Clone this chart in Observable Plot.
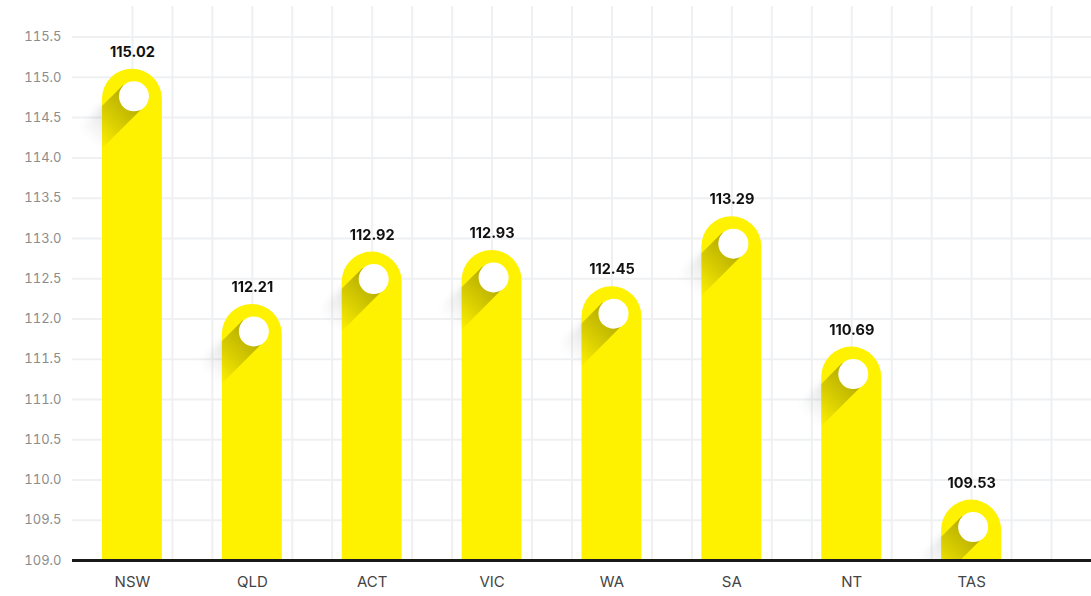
<!DOCTYPE html>
<html>
<head>
<meta charset="utf-8">
<script src="https://cdn.jsdelivr.net/npm/d3@7"></script>
<script src="https://cdn.jsdelivr.net/npm/@observablehq/plot@0.6"></script>
<style>
  html, body { margin: 0; padding: 0; background: #fff; }
  #chart svg { display: block; font-family: Inter, Roboto, "DejaVu Sans", sans-serif; }
  #chart [aria-label^="y-axis"] text { font-size: 13px; fill: #8c8c8c; }
  #chart [aria-label^="x-axis"] text { font-size: 15px; fill: #444; }
</style>
</head>
<body>
<div id="chart"></div>
<script>
// ---- data ----
const categories = ["NSW", "QLD", "ACT", "VIC", "WA", "SA", "NT", "TAS"];
const values     = [115.02, 112.21, 112.92, 112.93, 112.45, 113.29, 110.69, 109.53]; // printed labels
const barTops    = [115.10, 112.18, 112.83, 112.85, 112.40, 113.27, 111.65, 109.75]; // drawn bar tops (axis units)
const yTicks     = [109.0, 109.5, 110.0, 110.5, 111.0, 111.5, 112.0, 112.5, 113.0, 113.5, 114.0, 114.5, 115.0, 115.5];
const gridX      = d3.range(0, 24).map(k => k / 3); // three grid columns per category

const data = categories.map((c, i) => ({i, c, v: values[i], top: barTops[i]}));

const W = 1091, H = 596, ML = 72, MR = 0, MT = 6, MB = 36;

const chart = Plot.plot({
  width: W,
  height: H,
  marginLeft: ML,
  marginRight: MR,
  marginTop: MT,
  marginBottom: MB,
  x: {
    type: "linear",
    domain: [-0.5, 8.0],
    ticks: d3.range(categories.length),
    tickFormat: i => categories[i],
    tickSize: 0,
    tickPadding: 16,
    label: null
  },
  y: {
    domain: [109, 115.88],
    ticks: yTicks,
    tickFormat: d3.format(".1f"),
    tickSize: 0,
    tickPadding: 11,
    label: null
  },
  marks: [
    Plot.ruleY(yTicks, {stroke: "#eef0f2", strokeWidth: 2}),
    Plot.ruleX(gridX, {stroke: "#eef0f2", strokeWidth: 2}),
    Plot.rect(data, {
      x1: d => d.i - 0.25, x2: d => d.i + 0.25,
      y1: 108.5, y2: "top",
      rx: 30, fill: "#fff200", clip: true, ariaLabel: "bars"
    }),
    Plot.ruleY([109], {stroke: "#1a1a1a", strokeWidth: 3}),
    Plot.dot(data, {x: "i", y: "top", r: 15, dx: 1.5, dy: 27, fill: "#ffffff", stroke: null, ariaLabel: "knobs"}),
    Plot.text(data, {
      x: "i", y: "top", dy: -17,
      text: d => d.v.toFixed(2),
      fontSize: 14.5, fontWeight: 700, fill: "#111"
    })
  ]
});

document.getElementById("chart").appendChild(chart);

// ---- long shadows, placed from the bars the library drew ----
(function addShadows() {
  const svgNode = chart.tagName.toLowerCase() === "svg" ? chart : chart.querySelector("svg");
  const svg = d3.select(svgNode);
  const ns = "http://www.w3.org/2000/svg";
  const rects = Array.from(svgNode.querySelectorAll("rect")).filter(r => getComputedStyle(r).fill === "rgb(255, 242, 0)");
  if (!rects.length) return;
  const barG = rects[0].parentNode;
  const frameBottom = H - MB;

  const defs = svg.insert("defs", ":first-child");
  const gIn = defs.append("linearGradient").attr("id", "shIn").attr("x1", 0).attr("x2", 1).attr("y1", 0).attr("y2", 0);
  gIn.append("stop").attr("offset", 0).attr("stop-color", "#000").attr("stop-opacity", 0.3);
  gIn.append("stop").attr("offset", 0.55).attr("stop-color", "#000").attr("stop-opacity", 0.14);
  gIn.append("stop").attr("offset", 1).attr("stop-color", "#000").attr("stop-opacity", 0);
  const gOut = defs.append("linearGradient").attr("id", "shOut").attr("x1", 0).attr("x2", 1).attr("y1", 0).attr("y2", 0);
  gOut.append("stop").attr("offset", 0).attr("stop-color", "#000").attr("stop-opacity", 0.2);
  gOut.append("stop").attr("offset", 1).attr("stop-color", "#000").attr("stop-opacity", 0);
  defs.append("filter").attr("id", "shBlur").attr("x", "-50%").attr("y", "-50%").attr("width", "200%").attr("height", "200%")
    .append("feGaussianBlur").attr("stdDeviation", 3.5);
  defs.append("clipPath").attr("id", "frameClip")
    .append("rect").attr("x", ML).attr("y", MT).attr("width", W - ML - MR).attr("height", frameBottom - MT);

  let markG = barG;
  while (markG.parentNode && markG.parentNode !== svgNode) markG = markG.parentNode;

  const outerWrap = document.createElementNS(ns, "g");
  outerWrap.setAttribute("clip-path", "url(#frameClip)");
  const outer = document.createElementNS(ns, "g");
  outer.setAttribute("filter", "url(#shBlur)");
  outerWrap.appendChild(outer);
  const inner = document.createElementNS(ns, "g");
  svgNode.insertBefore(outerWrap, markG);
  svgNode.insertBefore(inner, markG.nextSibling);

  const L = 62;
  const sm = svgNode.getCTM ? svgNode.getCTM() : null;
  rects.forEach((r, k) => {
    const b = r.getBBox();
    const m = r.getCTM();
    let ox = 0, oy = 0;
    if (m && sm) { ox = m.e - sm.e; oy = m.f - sm.f; }
    const bx = b.x + ox, by = b.y + oy, bw = b.width, bh = b.height;
    const cx = bx + bw / 2 + 1.5, cy = by + 27;
    d3.select(outer).append("rect")
      .attr("x", 0).attr("y", -15).attr("width", L).attr("height", 30)
      .attr("transform", `translate(${cx},${cy}) rotate(135)`)
      .attr("fill", "url(#shOut)");
    const clipId = "barclip" + k;
    const visH = Math.max(0, Math.min(by + bh, frameBottom) - by);
    const cp = defs.append("clipPath").attr("id", clipId);
    cp.append("rect").attr("x", bx).attr("y", by).attr("width", bw).attr("height", Math.min(bw, visH))
      .attr("rx", bw / 2).attr("ry", bw / 2);
    cp.append("rect").attr("x", bx).attr("y", by + bw / 2).attr("width", bw).attr("height", Math.max(0, visH - bw / 2));
    const wrap = d3.select(inner).append("g").attr("clip-path", `url(#${clipId})`);
    wrap.append("rect")
      .attr("x", 0).attr("y", -15).attr("width", L).attr("height", 30)
      .attr("transform", `translate(${cx},${cy}) rotate(135)`)
      .attr("fill", "url(#shIn)");
  });
})();
</script>
</body>
</html>
